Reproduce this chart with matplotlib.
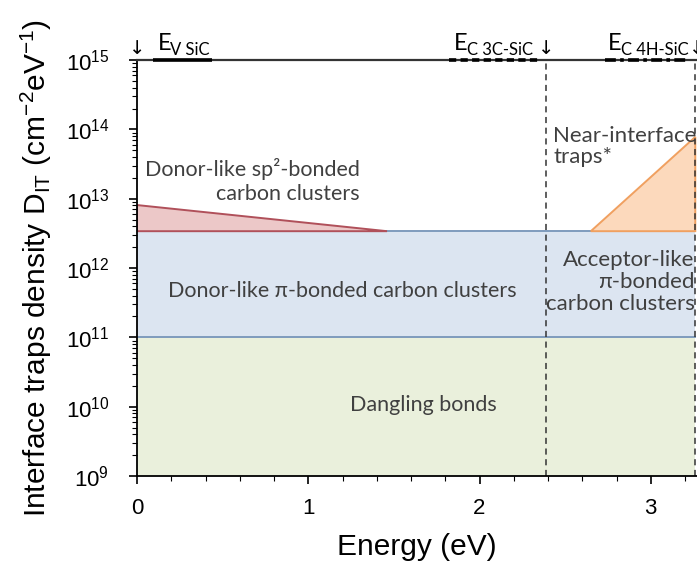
import matplotlib
matplotlib.use("Agg")
import matplotlib.pyplot as plt
from matplotlib.ticker import MultipleLocator, LogLocator

plt.rcParams['font.family'] = ['Liberation Sans', 'DejaVu Sans']
plt.rcParams['mathtext.fontset'] = 'custom'
plt.rcParams['mathtext.rm'] = 'Liberation Sans'
plt.rcParams['mathtext.it'] = 'Liberation Sans:italic'

# band edges (eV)
e_v = 0.0
e_c_3c = 2.39
e_c_4h = 3.26

# trap density levels (cm^-2 eV^-1)
dangling = [1e9, 1e11]
pi_bonded = [1e11, 3.4e12]

# sp2 carbon cluster triangle
sp2_x = [0.0, 0.0, 1.46]
sp2_y = [3.4e12, 8.1e12, 3.4e12]

# near-interface traps triangle
nit_x = [2.65, 3.26, 3.26]
nit_y = [3.4e12, 7.8e13, 3.4e12]

lab_font = ['Lato', 'DejaVu Sans']
txt_col = '#404040'

fig = plt.figure(figsize=(6.97, 5.72), dpi=100)
ax = fig.add_axes([0.1966, 0.1678, 0.8034, 0.7272])

ax.set_yscale('log')
ax.set_xlim(0, 3.27)
ax.set_ylim(1e9, 1e15)

# bands
ax.fill_between([e_v, e_c_4h], dangling[0], dangling[1], color='#eaf0dc', lw=0, zorder=1)
ax.fill_between([e_v, e_c_4h], pi_bonded[0], pi_bonded[1], color='#dce5f1', lw=0, zorder=1)
for yv in pi_bonded:
    ax.plot([e_v, e_c_4h], [yv, yv], color='#7f9bbd', lw=1.4, zorder=2)

ax.fill(sp2_x, sp2_y, facecolor='#ecc8c8', edgecolor='#b0505a', lw=1.4, zorder=3)
ax.fill(nit_x, nit_y, facecolor='#fcd9bc', edgecolor='#f0a060', lw=1.4, zorder=3)

# band edge lines
ax.axvline(e_c_3c, color='#333333', ls=(0, (4, 3)), lw=1.1, zorder=4)
ax.axvline(e_c_4h, color='#333333', ls=(0, (4, 3)), lw=1.1, zorder=4)

# annotations
ax.text(1.30, 1.8e13, 'Donor-like sp²-bonded\ncarbon clusters', family=lab_font,
        fontsize=15.5, color=txt_col, ha='right', va='center', multialignment='right',
        linespacing=1.2)
ax.text(1.20, 4.7e11, 'Donor-like π-bonded carbon clusters', family=lab_font,
        fontsize=15.5, color=txt_col, ha='center', va='center')
ax.text(1.67, 1.06e10, 'Dangling bonds', family=lab_font, fontsize=15.5,
        color=txt_col, ha='center', va='center')
ax.text(2.43, 5.65e13, 'Near-interface\ntraps*', family=lab_font, fontsize=16,
        color=txt_col, ha='left', va='center', linespacing=1.1)
ax.text(3.255, 6.3e11, 'Acceptor-like\nπ-bonded\ncarbon clusters', family=lab_font,
        fontsize=16, color=txt_col, ha='right', va='center', multialignment='right',
        linespacing=1.1)

# top band-edge labels
xt = ax.get_xaxis_transform()
for xa in [e_v, e_c_3c, e_c_4h + 0.01]:
    ax.text(xa, 1.004, '↓', fontsize=14, ha='center', va='bottom', family='DejaVu Sans',
            transform=xt, clip_on=False)
for x0, sub in [(0.12, 'V SiC'), (1.85, 'C 3C-SiC'), (2.75, 'C 4H-SiC')]:
    ax.text(x0, 1.014, 'E', fontsize=17, ha='left', va='bottom', family=lab_font,
            transform=xt, clip_on=False)
    ax.text(x0 + 0.075, 1.006, sub, fontsize=12, ha='left', va='bottom', family=lab_font,
            transform=xt, clip_on=False)
ax.plot([0.094, 0.44], [1.0, 1.0], color='black', lw=2.6, transform=xt,
        clip_on=False, solid_capstyle='butt', zorder=6)
ax.plot([1.82, 2.35], [1.0, 1.0], color='black', lw=2.6, ls=(0, (2, 1.2)),
        transform=xt, clip_on=False, zorder=6)
ax.plot([2.73, 3.22], [1.0, 1.0], color='black', lw=2.6, ls=(0, (3, 1.2, 1, 1.2)),
        transform=xt, clip_on=False, zorder=6)

# axes styling
ax.spines['right'].set_visible(False)
for s in ['left', 'bottom']:
    ax.spines[s].set_linewidth(1.3)
    ax.spines[s].set_zorder(5)
ax.spines['top'].set_linewidth(1.6)
ax.spines['top'].set_color('#333333')
ax.spines['top'].set_zorder(5)

ax.xaxis.set_major_locator(MultipleLocator(1))
ax.xaxis.set_minor_locator(MultipleLocator(0.2))
ax.yaxis.set_major_locator(LogLocator(base=10, numticks=20))
ax.yaxis.set_minor_locator(LogLocator(base=10, subs=range(2, 10), numticks=20))
ax.tick_params(which='major', direction='out', length=6, width=1.2, labelsize=16)
ax.tick_params(which='minor', direction='out', length=3.5, width=0.8)
ax.tick_params(axis='y', which='major', pad=14)
ax.tick_params(axis='x', which='major', pad=10)

ax.set_xlabel('Energy (eV)', fontsize=21.5, labelpad=10)
ax.set_ylabel(r'Interface traps density D$_{\mathrm{IT}}$ (cm$^{-2}$eV$^{-1}$)',
              fontsize=21.5, labelpad=8)

fig.savefig('out.png', dpi=100)
